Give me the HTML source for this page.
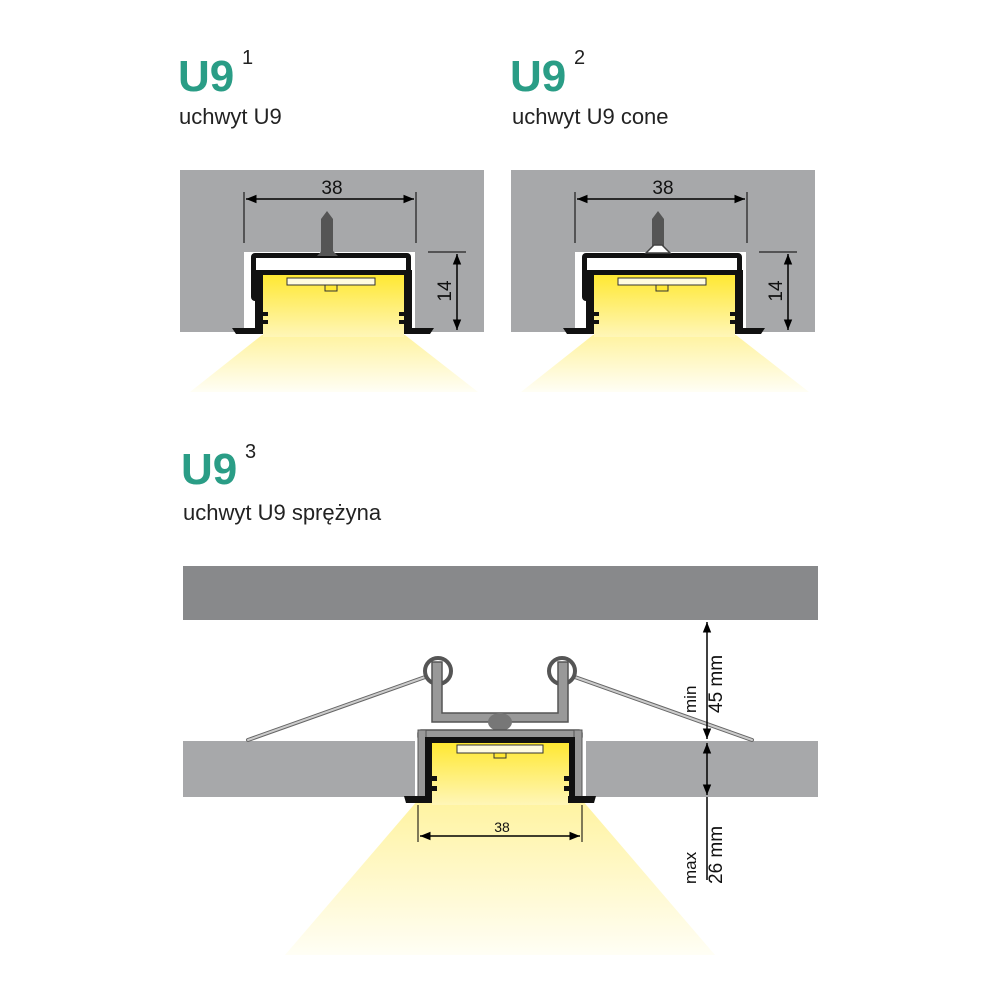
<!DOCTYPE html>
<html><head><meta charset="utf-8"><style>
html,body{margin:0;padding:0;background:#fff}
svg{display:block}
text{font-family:"Liberation Sans","DejaVu Sans",sans-serif}
</style></head><body>
<svg width="1000" height="1000" viewBox="0 0 1000 1000" xmlns="http://www.w3.org/2000/svg">
<defs>
<linearGradient id="y1" x1="0" y1="0" x2="0" y2="1"><stop offset="0" stop-color="#ffe833"/><stop offset="1" stop-color="#fff6b8"/></linearGradient>
<linearGradient id="c1" x1="0" y1="0" x2="0" y2="1"><stop offset="0" stop-color="#fff3a0"/><stop offset="1" stop-color="#fffef5"/></linearGradient>
<marker id="ar" viewBox="0 0 10 10" refX="10" refY="5" markerWidth="7" markerHeight="7" orient="auto-start-reverse"><path d="M0,1 L10,5 L0,9 z" fill="#000"/></marker>
<g id="small">
  <rect x="0" y="0" width="304" height="162" fill="#a7a8aa"/>
  <rect x="64" y="82" width="171" height="80" fill="#fff"/>
  <polygon points="82,165 225,165 298,222 10,222" fill="url(#c1)"/>
  <rect x="71" y="83" width="160" height="48" rx="4" fill="#111"/>
  <rect x="76" y="88" width="150" height="12" fill="#fff"/>
  <rect x="83" y="105" width="141" height="62" fill="url(#y1)"/>
  <rect x="75" y="100" width="8" height="64" fill="#111"/>
  <rect x="224" y="100" width="8" height="64" fill="#111"/>
  <rect x="83" y="142" width="5" height="4" fill="#111"/><rect x="83" y="150" width="5" height="4" fill="#111"/>
  <rect x="219" y="142" width="5" height="4" fill="#111"/><rect x="219" y="150" width="5" height="4" fill="#111"/>
  <path d="M52,158 L83,158 L83,164 L56,164 Z" fill="#111"/>
  <path d="M224,158 L254,158 L250,164 L224,164 Z" fill="#111"/>
  <rect x="107" y="108" width="88" height="7" fill="#fffbe0" stroke="#333" stroke-width="1"/>
  <rect x="145" y="115" width="12" height="6" fill="#ffe833" stroke="#333" stroke-width="1"/>
  <line x1="64" y1="22" x2="64" y2="73" stroke="#000" stroke-width="1"/>
  <line x1="236" y1="22" x2="236" y2="73" stroke="#000" stroke-width="1"/>
  <line x1="66" y1="29" x2="234" y2="29" stroke="#000" stroke-width="1.5" marker-start="url(#ar)" marker-end="url(#ar)"/>
  <text x="152" y="24" font-size="19" text-anchor="middle" fill="#111">38</text>
  <line x1="248" y1="82" x2="286" y2="82" stroke="#000" stroke-width="1"/>
  <line x1="277" y1="84" x2="277" y2="160" stroke="#000" stroke-width="1.5" marker-start="url(#ar)" marker-end="url(#ar)"/>
  <text x="0" y="0" font-size="19" text-anchor="middle" fill="#111" transform="translate(271,121) rotate(-90)">14</text>
</g>
</defs>

<text x="178" y="91" font-size="44" font-weight="bold" fill="#2a9d86">U9</text>
<text x="242" y="64" font-size="20" fill="#222">1</text>
<text x="179" y="124" font-size="22" fill="#222">uchwyt U9</text>

<text x="510" y="91" font-size="44" font-weight="bold" fill="#2a9d86">U9</text>
<text x="574" y="64" font-size="20" fill="#222">2</text>
<text x="512" y="124" font-size="22" fill="#222">uchwyt U9 cone</text>

<text x="181" y="484" font-size="44" font-weight="bold" fill="#2a9d86">U9</text>
<text x="245" y="458" font-size="20" fill="#222">3</text>
<text x="183" y="520" font-size="22" fill="#222">uchwyt U9 sprężyna</text>

<use href="#small" x="180" y="170"/>
<use href="#small" x="511" y="170"/>
<!-- screws -->
<path d="M321,252 L321,219 L327,211 L333,219 L333,252 Z" fill="#555"/>
<path d="M317,256 L327,245 L338,256 Z" fill="#555"/>
<path d="M652,252 L652,219 L658,211 L664,219 L664,252 Z" fill="#555"/>
<path d="M646,253 L654,245 L662,245 L670,253 Z" fill="#fff" stroke="#444" stroke-width="1.5"/>

<!-- bottom -->
<rect x="183" y="566" width="635" height="54" fill="#88898b"/>
<rect x="183" y="741" width="232" height="56" fill="#a7a8aa"/>
<rect x="586" y="741" width="232" height="56" fill="#a7a8aa"/>
<polygon points="418,800 582,800 715,955 285,955" fill="url(#c1)"/>
<!-- springs -->
<g fill="none" stroke="#666" stroke-width="4" stroke-linecap="round">
 <line x1="248" y1="740" x2="428" y2="676"/>
 <line x1="752" y1="740" x2="572" y2="676"/>
</g>
<g fill="none" stroke="#ccc" stroke-width="2" stroke-linecap="round">
 <line x1="248" y1="740" x2="428" y2="676"/>
 <line x1="752" y1="740" x2="572" y2="676"/>
</g>
<circle cx="438" cy="671" r="13" fill="#fff" stroke="#555" stroke-width="4"/>
<circle cx="562" cy="671" r="13" fill="#fff" stroke="#555" stroke-width="4"/>
<path d="M432,662 L432,722 L568,722 L568,662 L558,662 L558,713 L442,713 L442,662 Z" fill="#999" stroke="#555" stroke-width="1.5"/>
<ellipse cx="500" cy="722" rx="12" ry="9" fill="#777"/>
<rect x="418" y="730" width="164" height="10" rx="3" fill="#999" stroke="#555" stroke-width="1.5"/>
<rect x="418" y="730" width="8" height="70" fill="#999" stroke="#555" stroke-width="1"/>
<rect x="574" y="730" width="8" height="70" fill="#999" stroke="#555" stroke-width="1"/>
<rect x="425" y="737" width="150" height="66" fill="#111"/>
<rect x="432" y="743" width="137" height="62" fill="url(#y1)"/>
<rect x="432" y="776" width="5" height="5" fill="#111"/><rect x="432" y="786" width="5" height="5" fill="#111"/>
<rect x="564" y="776" width="5" height="5" fill="#111"/><rect x="564" y="786" width="5" height="5" fill="#111"/>
<path d="M404,796 L432,796 L432,803 L406,803 Z" fill="#111"/>
<path d="M568,796 L596,796 L594,803 L568,803 Z" fill="#111"/>
<rect x="457" y="745" width="86" height="8" fill="#fffbe0" stroke="#333" stroke-width="1"/>
<rect x="494" y="753" width="12" height="5" fill="#ffe833" stroke="#333" stroke-width="1"/>
<line x1="418" y1="805" x2="418" y2="842" stroke="#000" stroke-width="1"/>
<line x1="582" y1="805" x2="582" y2="842" stroke="#000" stroke-width="1"/>
<line x1="420" y1="836" x2="580" y2="836" stroke="#000" stroke-width="1.5" marker-start="url(#ar)" marker-end="url(#ar)"/>
<text x="502" y="832" font-size="14" text-anchor="middle" fill="#111">38</text>
<line x1="707" y1="622" x2="707" y2="739" stroke="#000" stroke-width="1.5" marker-start="url(#ar)" marker-end="url(#ar)"/>
<line x1="707" y1="743" x2="707" y2="795" stroke="#000" stroke-width="1.5" marker-start="url(#ar)" marker-end="url(#ar)"/>
<line x1="707" y1="797" x2="707" y2="880" stroke="#000" stroke-width="1.5"/>
<text transform="translate(696,713) rotate(-90)" font-size="17" fill="#111">min</text>
<text transform="translate(722,713) rotate(-90)" font-size="19" fill="#111">45 mm</text>
<text transform="translate(696,884) rotate(-90)" font-size="17" fill="#111">max</text>
<text transform="translate(722,884) rotate(-90)" font-size="19" fill="#111">26 mm</text>
</svg>
</body></html>
